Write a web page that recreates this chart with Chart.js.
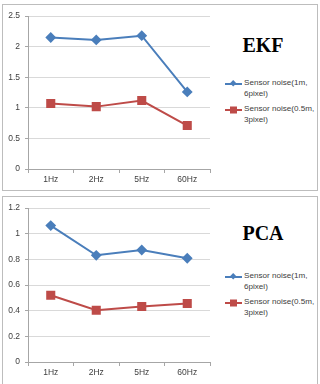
<!DOCTYPE html>
<html>
<head>
<meta charset="utf-8">
<script src="https://cdn.jsdelivr.net/npm/chart.js@4"></script>
<style>
  body { margin:0; width:320px; height:384px; background:#fff; position:relative; overflow:hidden; font-family:"Liberation Sans", Arial, sans-serif; }
  .box { position:absolute; left:2px; width:314px; border:1px solid #bdbdbd; background:#fff; }
  .cv { position:absolute; left:1px; width:214px; }
  .title { position:absolute; width:80px; text-align:center; font-family:"Liberation Serif", serif; font-weight:bold; font-size:20px; color:#000; }
  .leg { position:absolute; left:220px; font-size:8.1px; line-height:10.5px; color:#404040; display:flex; align-items:flex-start; white-space:nowrap; }
  .leg svg { margin-top:0px; margin-right:1px; flex:none; }
</style>
</head>
<body>
<div class="box" style="top:4px;height:185px;">
  <div class="cv" style="top:1px;height:184px;"><canvas id="ekfChart"></canvas></div>
  <div class="title" style="left:220px;top:29px;">EKF</div>
  <div class="leg" style="top:73px;"><svg width="20" height="12"><line x1="2" y1="6" x2="19" y2="6" stroke="#4a7ebb" stroke-width="2"/><rect x="8" y="3" width="4.5" height="4.5" fill="#4a7ebb" transform="rotate(45 10.2 5.2)"/></svg><span>Sensor noise(1m,<br>6pixel)</span></div>
  <div class="leg" style="top:99px;"><svg width="20" height="12"><line x1="2" y1="6" x2="19" y2="6" stroke="#be4b48" stroke-width="2"/><rect x="7" y="2.5" width="7" height="7" fill="#be4b48"/></svg><span>Sensor noise(0.5m,<br>3pixel)</span></div>
</div>
<div class="box" style="top:196px;height:190px;">
  <div class="cv" style="top:1px;height:185px;"><canvas id="pcaChart"></canvas></div>
  <div class="title" style="left:220px;top:25px;">PCA</div>
  <div class="leg" style="top:74px;"><svg width="20" height="12"><line x1="2" y1="6" x2="19" y2="6" stroke="#4a7ebb" stroke-width="2"/><rect x="8" y="3" width="4.5" height="4.5" fill="#4a7ebb" transform="rotate(45 10.2 5.2)"/></svg><span>Sensor noise(1m,<br>6pixel)</span></div>
  <div class="leg" style="top:100px;"><svg width="20" height="12"><line x1="2" y1="6" x2="19" y2="6" stroke="#be4b48" stroke-width="2"/><rect x="7" y="2.5" width="7" height="7" fill="#be4b48"/></svg><span>Sensor noise(0.5m,<br>3pixel)</span></div>
</div>
<script>
const categories = ["1Hz", "2Hz", "5Hz", "60Hz"];
const seriesNames = ["Sensor noise(1m, 6pixel)", "Sensor noise(0.5m, 3pixel)"];
const ekfHigh = [2.15, 2.11, 2.18, 1.26];
const ekfLow = [1.07, 1.02, 1.12, 0.71];
const pcaHigh = [1.064, 0.832, 0.873, 0.809];
const pcaLow = [0.52, 0.404, 0.433, 0.456];
const ekfTicks = [0, 0.5, 1, 1.5, 2, 2.5];
const pcaTicks = [0, 0.2, 0.4, 0.6, 0.8, 1, 1.2];

function makeChart(id, high, low, ticks, step, padTop) {
    const ctx = document.getElementById(id);
    return new Chart(ctx, {
        type: "line",
        data: {
            labels: categories,
            datasets: [{
                label: seriesNames[0],
                data: high,
                borderColor: "#4a7ebb",
                backgroundColor: "#4a7ebb",
                borderWidth: 2,
                pointStyle: "rectRot",
                pointRadius: 4,
                pointHoverRadius: 4,
                tension: 0
            }, {
                label: seriesNames[1],
                data: low,
                borderColor: "#be4b48",
                backgroundColor: "#be4b48",
                borderWidth: 2,
                pointStyle: "rect",
                pointRadius: 5,
                pointHoverRadius: 5,
                tension: 0
            }]
        },
        options: {
            responsive: true,
            maintainAspectRatio: false,
            animation: false,
            layout: { padding: { top: padTop, right: 8, left: 0, bottom: 0 } },
            plugins: { legend: { display: false }, tooltip: { enabled: false } },
            scales: {
                x: {
                    offset: true,
                    afterFit: (s) => { s.height = 21; },
                    grid: { offset: true, drawOnChartArea: false, drawTicks: true, tickLength: 4, color: "#a6a6a6" },
                    border: { color: "#a6a6a6" },
                    ticks: { color: "#404040", font: { family: "Liberation Sans", size: 8.5 }, padding: 2, maxRotation: 0 }
                },
                y: {
                    min: 0,
                    max: ticks[ticks.length - 1],
                    afterFit: (s) => { s.width = 24; },
                    afterBuildTicks: (s) => { s.ticks = ticks.map(v => ({ value: v })); },
                    grid: { color: "#d9d9d9", tickLength: 3, tickColor: "#a6a6a6" },
                    border: { color: "#a6a6a6" },
                    ticks: {
                        stepSize: step,
                        color: "#404040",
                        font: { family: "Liberation Sans", size: 8.5 },
                        padding: 5,
                        callback: (v) => String(Math.round(v * 10) / 10)
                    }
                }
            }
        }
    });
}

makeChart("ekfChart", ekfHigh, ekfLow, ekfTicks, 0.5, 10);
makeChart("pcaChart", pcaHigh, pcaLow, pcaTicks, 0.2, 9);
</script>
</body>
</html>
